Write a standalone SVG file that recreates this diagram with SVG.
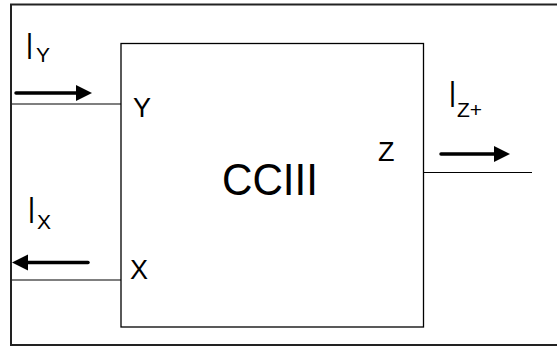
<svg xmlns="http://www.w3.org/2000/svg" width="557" height="347" viewBox="0 0 557 347">
  <defs>
    <style>
      .frame { fill: none; stroke: #222; stroke-width: 2; }
      .box { fill: #fff; stroke: #000; stroke-width: 1.3; }
      .wire { stroke: #000; stroke-width: 1.2; fill: none; }
      .flow { stroke: #000; stroke-width: 3.5; fill: none; stroke-linecap: round; }
      .head { fill: #000; }
      text { font-family: "Liberation Sans", Arial, sans-serif; fill: #000; }
      .port { font-size: 27px; }
      .cur { font-size: 36px; }
      .sub { font-size: 21px; }
    </style>
  </defs>

  <!-- outer frame -->
  <rect class="frame" x="11" y="4.5" width="560" height="340.5"/>

  <!-- CCIII block -->
  <g id="cciii">
    <rect class="box" x="121" y="43.5" width="302.5" height="283.5"/>
    <text x="222" y="195" font-size="44" textLength="96" lengthAdjust="spacingAndGlyphs">CCIII</text>
    <text class="port" x="133" y="117">Y</text>
    <text class="port" x="130" y="279">X</text>
    <text class="port" x="378" y="161">Z</text>
  </g>

  <!-- terminal wires and current arrows -->
  <g id="connectors">
    <line class="wire" x1="12" y1="104" x2="121" y2="104"/>
    <line class="wire" x1="12" y1="280" x2="121" y2="280"/>
    <line class="wire" x1="423.5" y1="172.5" x2="532" y2="172.5"/>

    <!-- I_Y : into Y -->
    <line class="flow" x1="16" y1="93" x2="80" y2="93"/>
    <polygon class="head" points="92,93 76,85 76,101"/>

    <!-- I_X : out of X -->
    <line class="flow" x1="24" y1="262.5" x2="88" y2="262.5"/>
    <polygon class="head" points="12,262.5 28,254.5 28,270.5"/>

    <!-- I_Z+ : out of Z -->
    <line class="flow" x1="441" y1="154" x2="498" y2="154"/>
    <polygon class="head" points="510,154 494,146 494,162"/>
  </g>

  <!-- current labels -->
  <g id="label-iy">
    <text x="26" y="59" font-size="36" textLength="7" lengthAdjust="spacingAndGlyphs">I</text>
    <text class="sub" x="36" y="62">Y</text>
  </g>
  <g id="label-ix">
    <text x="28" y="223" font-size="36" textLength="7" lengthAdjust="spacingAndGlyphs">I</text>
    <text class="sub" x="37" y="229">X</text>
  </g>
  <g id="label-iz">
    <text x="449" y="107" font-size="36" textLength="7" lengthAdjust="spacingAndGlyphs">I</text>
    <text class="sub" x="457" y="117">Z+</text>
  </g>
</svg>
